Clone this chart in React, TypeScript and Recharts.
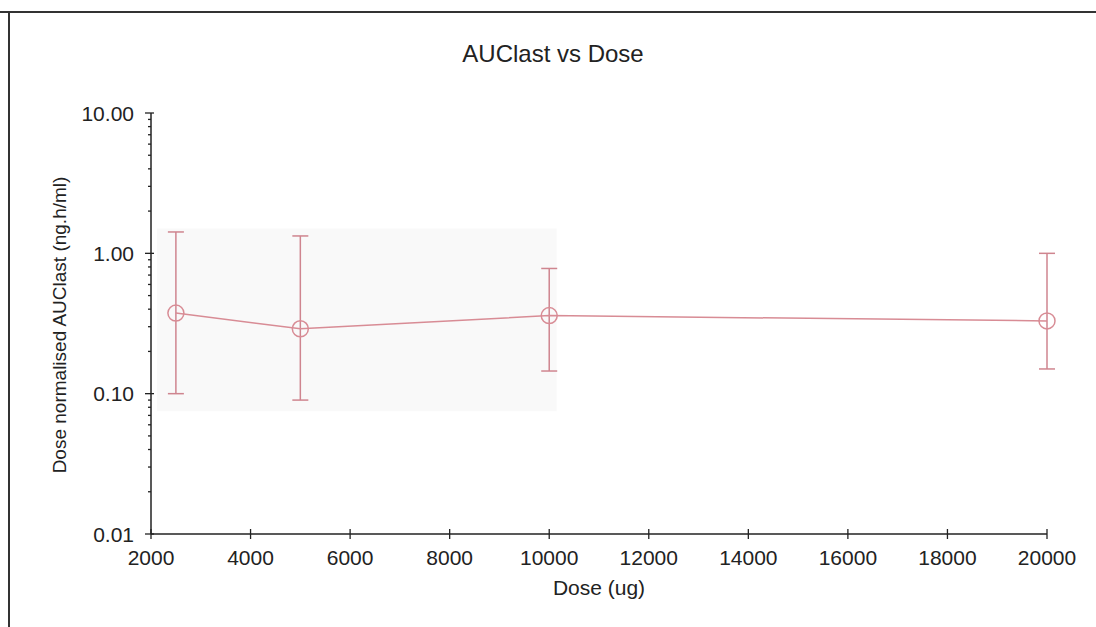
import React from "react";
import {
  LineChart,
  Line,
  XAxis,
  YAxis,
  ErrorBar,
  ReferenceArea,
} from "recharts";

// dose groups (ug) and dose-normalised AUClast geometric means with range
const doses = [2500, 5000, 10000, 20000];
const auc = [0.375, 0.29, 0.36, 0.33];
const aucLow = [0.1, 0.09, 0.145, 0.15];
const aucHigh = [1.42, 1.33, 0.78, 1.0];

const xTicks = [2000, 4000, 6000, 8000, 10000, 12000, 14000, 16000, 18000, 20000];
const yMajor = [0.01, 0.1, 1, 10];
const yTicks = [
  0.01, 0.02, 0.03, 0.04, 0.05, 0.06, 0.07, 0.08, 0.09,
  0.1, 0.2, 0.3, 0.4, 0.5, 0.6, 0.7, 0.8, 0.9,
  1, 2, 3, 4, 5, 6, 7, 8, 9, 10,
];

const data = doses.map((d, i) => ({
  dose: d,
  auc: auc[i],
  err: [auc[i] - aucLow[i], aucHigh[i] - auc[i]],
}));

const FONT = "'Liberation Sans', Arial, sans-serif";
const PINK = "#d88c95";
const INK = "#222";

function YTick(props: any) {
  const { x, y, payload } = props;
  const v = payload.value;
  const major = yMajor.some((m) => Math.abs(m - v) < 1e-9);
  return (
    <g>
      <line
        x1={major ? x - 6 : x - 3}
        x2={major ? x + 3 : x}
        y1={y}
        y2={y}
        stroke={INK}
        strokeWidth={1.3}
      />
      {major && (
        <text
          x={x - 17}
          y={y + 7.5}
          textAnchor="end"
          fontFamily={FONT}
          fontSize={21}
          fill={INK}
        >
          {v.toFixed(2)}
        </text>
      )}
    </g>
  );
}

function XTick(props: any) {
  const { x, y, payload } = props;
  return (
    <g>
      <line x1={x} x2={x} y1={y - 5} y2={y + 5} stroke={INK} strokeWidth={1.3} />
      <text
        x={x}
        y={y + 31}
        textAnchor="middle"
        fontFamily={FONT}
        fontSize={21}
        fill={INK}
      >
        {payload.value}
      </text>
    </g>
  );
}

function Ring(props: any) {
  const { cx, cy } = props;
  if (cx == null || cy == null) return null;
  return <circle cx={cx} cy={cy} r={8} fill="none" stroke={PINK} strokeWidth={1.5} />;
}

export default function App() {
  return (
    <div
      style={{
        position: "absolute",
        left: 0,
        top: 0,
        width: 1096,
        height: 627,
        background: "#fff",
        fontFamily: FONT,
        color: INK,
      }}
    >
      {/* frame */}
      <div style={{ position: "absolute", left: 0, top: 11, width: 1096, height: 2, background: "#333" }} />
      <div style={{ position: "absolute", left: 8, top: 12, width: 1.5, height: 615, background: "#333" }} />

      <div
        style={{
          position: "absolute",
          left: 0,
          width: 1106,
          top: 42,
          textAlign: "center",
          fontSize: 24,
          lineHeight: "24px",
        }}
      >
        AUClast vs Dose
      </div>

      <LineChart
        width={1096}
        height={627}
        data={data}
        margin={{ top: 113, right: 49, bottom: 53, left: 70 }}
      >
        <XAxis
          dataKey="dose"
          type="number"
          domain={[2000, 20000]}
          ticks={xTicks}
          interval={0}
          height={40}
          tickSize={0}
          tickMargin={0}
          tickLine={false}
          axisLine={{ stroke: INK, strokeWidth: 1.5 }}
          tick={(p: any) => <XTick {...p} />}
        />
        <YAxis
          type="number"
          scale="log"
          domain={[0.01, 10]}
          allowDataOverflow
          ticks={yTicks}
          interval={0}
          width={81}
          tickSize={0}
          tickMargin={0}
          tickLine={false}
          axisLine={{ stroke: INK, strokeWidth: 1.5 }}
          tick={(p: any) => <YTick {...p} />}
        />
        <ReferenceArea
          x1={2120}
          x2={10150}
          y1={0.075}
          y2={1.5}
          fill="#f9f9f9"
          fillOpacity={1}
          stroke="none"
        />
        <Line
          dataKey="auc"
          type="linear"
          stroke={PINK}
          strokeWidth={1.5}
          dot={<Ring />}
          activeDot={false}
          isAnimationActive={false}
        >
          <ErrorBar
            dataKey="err"
            direction="y"
            width={8}
            stroke="#cf858f"
            strokeWidth={1.5}
            isAnimationActive={false}
          />
        </Line>
      </LineChart>

      <div
        style={{
          position: "absolute",
          left: 499,
          width: 200,
          top: 577,
          textAlign: "center",
          fontSize: 21,
          lineHeight: "21px",
        }}
      >
        Dose (ug)
      </div>

      <div
        style={{
          position: "absolute",
          left: 60,
          top: 325,
          width: 0,
          height: 0,
        }}
      >
        <div
          style={{
            position: "absolute",
            left: -200,
            top: -11,
            width: 400,
            textAlign: "center",
            fontSize: 19,
            lineHeight: "22px",
            transform: "rotate(-90deg)",
            whiteSpace: "nowrap",
          }}
        >
          Dose normalised AUClast (ng.h/ml)
        </div>
      </div>
    </div>
  );
}
